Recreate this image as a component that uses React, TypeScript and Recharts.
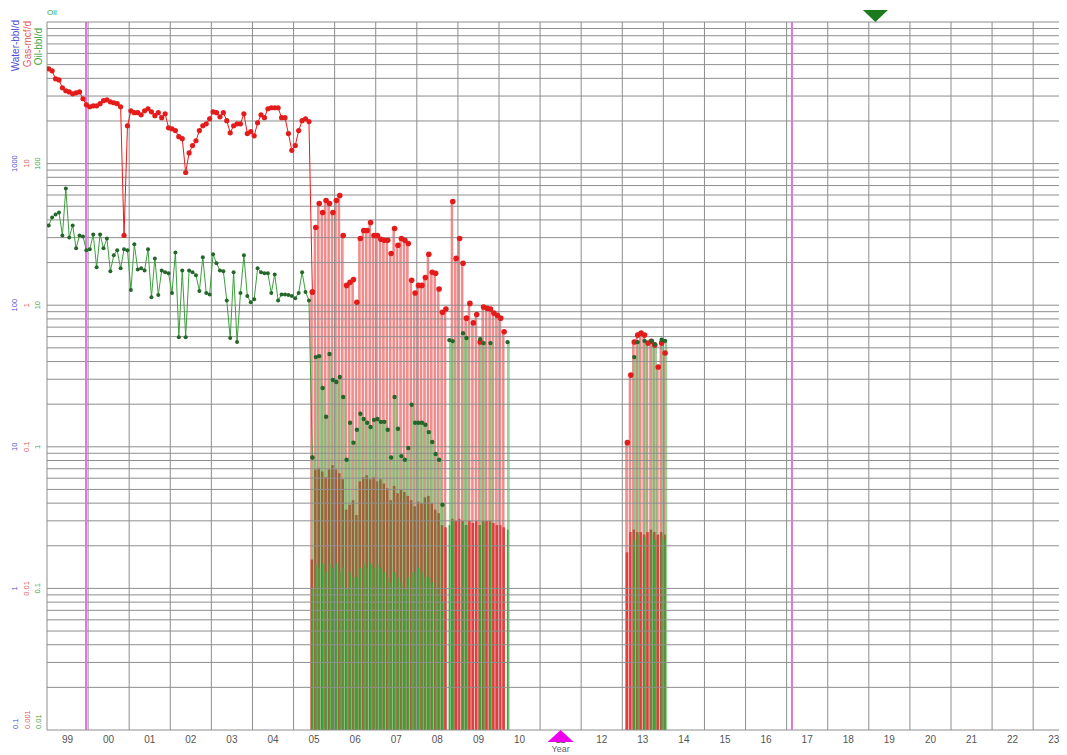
import React from 'react';
import { ComposedChart, Line, Bar, Cell, XAxis, YAxis, ReferenceLine, ReferenceDot } from 'recharts';

// ---- data (monthly, month index 0 = Jan 1999, plotted mid-month) ----
const FIRST_YEAR = 1999;

// continuous production, Jan 1999 .. Jun 2005 (78 months)
const gasEarly = [
  46.7, 45.2, 39.7, 39.0, 34.3, 32.7, 32.1, 31.1, 31.6, 32.1,
  28.7, 26.0, 25.2, 25.6, 25.6, 26.5, 27.8, 28.2, 27.3, 26.9,
  26.5, 25.2, 3.11, 18.5, 23.6, 22.9, 22.9, 22.1, 23.6, 24.4,
  23.2, 21.8, 22.9, 21.1, 22.5, 17.9, 17.6, 17.1, 15.5, 15.0,
  8.65, 11.9, 13.4, 14.5, 17.1, 18.5, 19.1, 20.7, 23.2, 22.9,
  21.4, 22.9, 20.1, 16.5, 18.5, 19.1, 19.1, 22.5, 16.3, 16.8,
  15.7, 19.4, 22.1, 21.1, 24.4, 24.8, 24.8, 24.8, 21.1, 21.1,
  16.3, 12.4, 13.4, 17.1, 20.1, 20.7, 19.8, 1.24,
];
const oilEarly = [
  36.6, 41.7, 43.7, 45.2, 31.1, 66.7, 30.1, 36.6, 25.2, 31.1,
  30.6, 24.4, 24.8, 31.6, 18.5, 31.6, 25.2, 29.6, 17.4, 22.5,
  24.4, 18.2, 24.8, 24.4, 12.8, 26.9, 17.9, 18.2, 17.6, 24.8,
  11.4, 21.4, 11.8, 17.6, 17.1, 16.8, 12.2, 23.6, 5.95, 17.6,
  5.95, 17.6, 17.1, 16.3, 12.6, 21.8, 12.2, 11.9, 22.9, 19.8,
  17.6, 17.4, 10.8, 5.86, 17.1, 5.49, 12.2, 22.5, 11.6, 10.5,
  11.0, 18.2, 17.1, 16.8, 16.8, 12.2, 16.5, 10.8, 11.9, 11.9,
  11.8, 11.6, 11.2, 12.2, 17.1, 12.4, 10.8, 0.84,
];

// intermittent production, Jun 2005 .. Mar 2010
const LATE_START = 77;
const gasLate = [
  1.24, 3.54, 5.23, 4.52, 5.49, 5.23, 4.52, 5.49, 5.95, 3.11,
  1.38, 1.45, 1.52, 1.05, 2.96, 3.37, 3.37, 3.84, 3.11, 3.11,
  2.92, 2.87, 2.87, 2.32, 3.48, 2.65, 2.96, 2.87, 2.73, 1.50,
  1.22, 1.38, 1.38, 1.57, 2.29, 1.71, 1.68, 1.30, 0.89, 0.94,
  null, 5.40, 2.14, 2.96, 1.98, 0.81, 1.03, 0.75, 0.86, 0.55,
  0.97, 0.95, 0.94, 0.88, 0.85, 0.81, 0.65,
];
const oilLate = [
  0.84, 4.30, 4.37, 2.60, 1.63, 4.52, 2.96, 2.87, 3.11, 2.25,
  0.81, 1.48, 1.07, 1.32, 1.71, 1.57, 1.48, 1.38, 1.55, 1.57,
  1.50, 1.50, 1.32, 0.84, 2.25, 1.34, 0.86, 0.81, 0.98, 1.98,
  1.48, 1.48, 1.48, 1.43, 1.27, 1.08, 0.89, 0.81, 0.39, null,
  5.67, 5.58, null, null, 6.35, 5.86, null, null, null, 5.76,
  5.40, null, 5.40, null, null, null, null, 5.49,
];
// calendar-day rates (lower, darker columns)
const gasCalLate = [
  0.016, 0.069, 0.071, 0.067, 0.061, 0.069, 0.074, 0.069, 0.065, 0.059,
  0.036, 0.039, 0.042, 0.033, 0.057, 0.061, 0.063, 0.059, 0.061, 0.057,
  0.059, 0.055, 0.051, 0.042, 0.053, 0.047, 0.050, 0.048, 0.045, 0.042,
  0.038, 0.041, 0.040, 0.044, 0.045, 0.040, 0.036, 0.034, 0.028, 0.027,
  null, 0.031, 0.030, 0.031, 0.030, 0.028, 0.030, 0.029, 0.030, 0.028,
  0.030, 0.030, 0.030, 0.029, 0.028, 0.028, 0.027,
];
const oilCalLate = [
  0.10, 0.15, 0.14, 0.15, 0.13, 0.15, 0.14, 0.15, 0.13, 0.14,
  0.10, 0.13, 0.12, 0.12, 0.14, 0.15, 0.14, 0.15, 0.14, 0.15,
  0.14, 0.13, 0.12, 0.11, 0.13, 0.12, 0.11, 0.10, 0.12, 0.13,
  0.13, 0.14, 0.13, 0.12, 0.12, 0.11, 0.10, 0.09, 0.08, null,
  0.28, 0.30, null, null, 0.29, 0.28, null, null, null, 0.28,
  0.29, null, 0.29, null, null, null, null, 0.26,
];

// 2013 production, Feb 2013 .. Jan 2014
const CLUSTER_START = 169;
const gasCluster = [0.107, 0.321, 0.55, 0.615, 0.635, 0.615, 0.54, 0.557, 0.523, 0.366, 0.54, 0.46];
const oilCluster = [null, null, 4.3, 5.49, null, 5.6, null, 5.6, 5.3, null, 5.7, 5.6];
const gasCalCluster = [0.018, 0.025, 0.026, 0.025, 0.025, 0.024, 0.025, 0.026, 0.025, 0.024, 0.025, 0.024];
const oilCalCluster = [null, null, 0.22, 0.24, null, 0.23, null, 0.24, 0.22, null, 0.23, 0.22];

// ---- axes / labels ----
const yearTickLabels = ['99', '00', '01', '02', '03', '04', '05', '06', '07', '08', '09', '10', '11', '12', '13', '14', '15', '16', '17', '18', '19', '20', '21', '22', '23'];
const X_MIN = 1999;
const X_MAX = 2023.75;
const Y_MIN = 0.01;
const Y_MAX = 1000;
const oilTicks = [0.01, 0.1, 1, 10, 100];
const waterTickLabels = ['0.1', '1', '10', '100', '1000'];
const gasTickLabels = ['0.001', '0.01', '0.1', '1', '10'];
const oilTickLabels = ['0.01', '0.1', '1', '10', '100'];
const axisTitles = ['Water-bbl/d', 'Gas-mcf/d', 'Oil-bbl/d'];
const xAxisTitle = 'Year';
const legendText = 'Oil';
const markerLines = [1999.95, 2017.13];
const bottomMarkerYear = 2011.5;
const topMarkerYear = 2019.16;

// ---- build the table ----
type Row = { t: number; [k: string]: number };
const rowMap = new Map<number, Row>();
const put = (m: number, key: string, v: number | null) => {
  if (v == null) return;
  let r = rowMap.get(m);
  if (!r) {
    r = { t: FIRST_YEAR + (m + 0.5) / 12 };
    rowMap.set(m, r);
  }
  r[key] = v;
};
gasEarly.forEach((v, i) => put(i, 'gasE', v));
oilEarly.forEach((v, i) => put(i, 'oilE', v));
gasLate.forEach((v, i) => put(LATE_START + i, 'gasL', v));
oilLate.forEach((v, i) => put(LATE_START + i, 'oilL', v));
gasCalLate.forEach((v, i) => put(LATE_START + i, 'gasC', v));
oilCalLate.forEach((v, i) => put(LATE_START + i, 'oilC', v));
gasCluster.forEach((v, i) => put(CLUSTER_START + i, 'gasL', v));
oilCluster.forEach((v, i) => put(CLUSTER_START + i, 'oilL', v));
gasCalCluster.forEach((v, i) => put(CLUSTER_START + i, 'gasC', v));
oilCalCluster.forEach((v, i) => put(CLUSTER_START + i, 'oilC', v));
const rows = Array.from(rowMap.entries()).sort((a, b) => a[0] - b[0]).map((e) => e[1]);

const gridY: number[] = [];
[0.01, 0.1, 1, 10, 100].forEach((d) => {
  for (let k = 1; k <= 9; k++) gridY.push(d * k);
});
gridY.push(Y_MAX);
const gridX: number[] = [];
for (let y = 1999; y <= 2023; y++) gridX.push(y);
gridX.push(X_MAX);
const yearCenters = yearTickLabels.map((_, i) => X_MIN + 0.5 + i);

const FONT = '"Liberation Sans", Arial, sans-serif';
const BLUE = '#4b4bd8';
const RED = '#e25a5a';
const GREEN = '#3fa33f';
const GRID = '#8e8e8e';
const BROWN = '#a0603a';
const CAL_RED = '#e23c3c';

const rotText = (x: number, y: number, anchor: string, color: string, size: number, s: string, key: any) => (
  <text
    key={key}
    x={x}
    y={y}
    transform={`rotate(-90 ${x} ${y})`}
    textAnchor={anchor}
    dominantBaseline="central"
    fill={color}
    fontSize={size}
    fontFamily={FONT}
  >
    {s}
  </text>
);

const makeYLabel = (i: number) => (p: any) => {
  const bottom = i === 0;
  const anchor = bottom ? 'start' : 'middle';
  const y = bottom ? p.cy - 1 : p.cy;
  return (
    <g>
      {rotText(p.cx - 32, y, anchor, BLUE, 7.5, waterTickLabels[i], 'w')}
      {rotText(p.cx - 20, y, anchor, RED, 7.5, gasTickLabels[i], 'g')}
      {rotText(p.cx - 9, y, anchor, GREEN, 7.5, oilTickLabels[i], 'o')}
    </g>
  );
};

const TitleShape = (p: any) => (
  <g>
    {rotText(p.cx - 32, p.cy - 2, 'end', BLUE, 10, axisTitles[0], 'w')}
    {rotText(p.cx - 20, p.cy - 1, 'end', RED, 10, axisTitles[1], 'g')}
    {rotText(p.cx - 9, p.cy + 6, 'end', GREEN, 10, axisTitles[2], 'o')}
    <text x={p.cx} y={p.cy - 7} fill={GREEN} fontSize={8} fontFamily={FONT}>
      {legendText}
    </text>
  </g>
);

const makeYearLabel = (s: string) => (p: any) => (
  <text x={p.cx} y={p.cy + 13} textAnchor="middle" fill="#555" fontSize={10} fontFamily={FONT}>
    {s}
  </text>
);

const UpTriangle = (p: any) => (
  <g>
    <path d={`M${p.cx},${p.cy} l13,12 l-26,0 z`} fill="#ee00ee" />
    <text x={p.cx} y={p.cy + 22} textAnchor="middle" fill="#666" fontSize={9} fontFamily={FONT}>
      {xAxisTitle}
    </text>
  </g>
);
const DownTriangle = (p: any) => <path d={`M${p.cx},${p.cy} l12.5,-12 l-25,0 z`} fill="#1b7a1b" />;

export default function App() {
  return (
    <div style={{ width: 1059, height: 747, fontFamily: FONT }}>
      <ComposedChart width={1059} height={747} data={rows} margin={{ top: 14, right: 3, bottom: 25, left: 39 }}>
        <XAxis xAxisId="main" dataKey="t" type="number" domain={[X_MIN, X_MAX]} allowDataOverflow hide />
        <XAxis xAxisId="p" dataKey="t" type="number" domain={[X_MIN, X_MAX]} allowDataOverflow hide />
        <XAxis xAxisId="c1" dataKey="t" type="number" domain={[X_MIN, X_MAX]} allowDataOverflow hide />
        <XAxis xAxisId="c2" dataKey="t" type="number" domain={[X_MIN, X_MAX]} allowDataOverflow hide />
        <YAxis yAxisId="oil" scale="log" domain={[Y_MIN, Y_MAX]} allowDataOverflow hide />
        <YAxis yAxisId="gas" scale="log" domain={[0.001, 100]} allowDataOverflow hide />

        {/* producing-day columns */}
        <Bar xAxisId="p" yAxisId="gas" dataKey="gasL" fill="#f39a9a" stroke="#e85050" strokeWidth={0.5} barSize={1.7} isAnimationActive={false} />
        <Bar xAxisId="p" yAxisId="oil" dataKey="oilL" fill="#a6d9a6" stroke="#5cb85c" strokeWidth={0.5} barSize={1.7} isAnimationActive={false} />
        {/* calendar-day columns */}
        <Bar xAxisId="c1" yAxisId="gas" dataKey="gasC" barSize={2.5} isAnimationActive={false}>
          {rows.map((r, i) => (
            <Cell key={i} fill={r.oilC != null ? BROWN : CAL_RED} />
          ))}
        </Bar>
        <Bar xAxisId="c2" yAxisId="oil" dataKey="oilC" fill="#3aa63a" barSize={1.6} isAnimationActive={false} />

        {gridY.map((v) => (
          <ReferenceLine key={'gy' + v} xAxisId="main" yAxisId="oil" y={v} stroke={GRID} strokeWidth={1} />
        ))}
        {gridX.map((v) => (
          <ReferenceLine key={'gx' + v} xAxisId="main" yAxisId="oil" x={v} stroke={GRID} strokeWidth={1} />
        ))}
        {markerLines.map((v) => (
          <ReferenceLine key={'m' + v} xAxisId="main" yAxisId="oil" x={v} stroke="#dd77dd" strokeWidth={2} />
        ))}

        <Line xAxisId="main" yAxisId="oil" dataKey="oilE" stroke="#3d9e3d" strokeWidth={1} dot={{ r: 2, fill: '#25662a', stroke: 'none' }} activeDot={false} isAnimationActive={false} />
        <Line xAxisId="main" yAxisId="gas" dataKey="gasE" stroke="#f01818" strokeWidth={1} dot={{ r: 2.6, fill: '#e41b1b', stroke: 'none' }} activeDot={false} isAnimationActive={false} />
        <Line xAxisId="main" yAxisId="gas" dataKey="gasL" stroke="none" dot={{ r: 2.8, fill: '#e41b1b', stroke: 'none' }} activeDot={false} isAnimationActive={false} />
        <Line xAxisId="main" yAxisId="oil" dataKey="oilL" stroke="none" dot={{ r: 2.2, fill: '#25662a', stroke: 'none' }} activeDot={false} isAnimationActive={false} />

        {/* axis texts, placed through the axis scales */}
        {yearCenters.map((v, i) => (
          <ReferenceDot key={'yl' + i} xAxisId="main" yAxisId="oil" x={v} y={Y_MIN} ifOverflow="visible" shape={makeYearLabel(yearTickLabels[i])} />
        ))}
        {oilTicks.map((v, i) => (
          <ReferenceDot key={'tl' + i} xAxisId="main" yAxisId="oil" x={X_MIN} y={v} ifOverflow="visible" shape={makeYLabel(i)} />
        ))}
        <ReferenceDot xAxisId="main" yAxisId="oil" x={X_MIN} y={Y_MAX} ifOverflow="visible" shape={TitleShape} />

        <ReferenceDot xAxisId="main" yAxisId="oil" x={bottomMarkerYear} y={Y_MIN} ifOverflow="visible" shape={UpTriangle} />
        <ReferenceDot xAxisId="main" yAxisId="oil" x={topMarkerYear} y={Y_MAX} ifOverflow="visible" shape={DownTriangle} />
      </ComposedChart>
    </div>
  );
}
